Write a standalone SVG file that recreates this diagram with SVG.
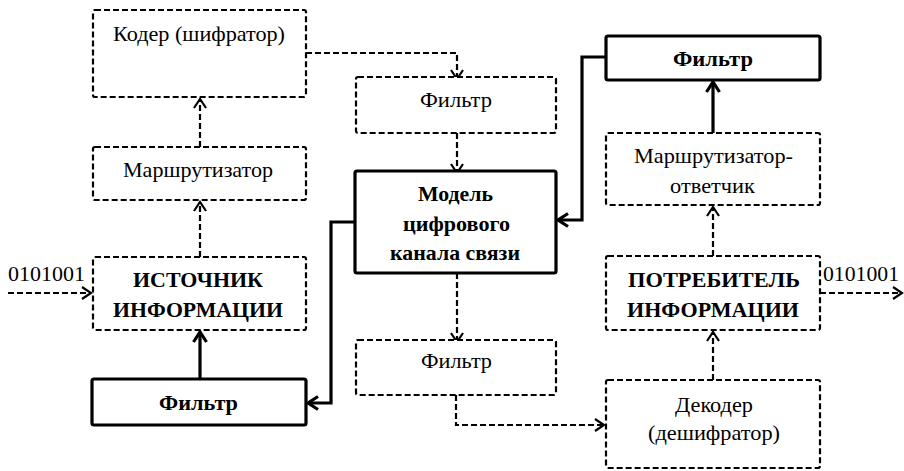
<svg xmlns="http://www.w3.org/2000/svg" width="904" height="471" viewBox="0 0 904 471" font-family="Liberation Serif, Times New Roman, serif">
<defs>
<style>
.box{fill:#fff;stroke:#000;stroke-width:2.2;stroke-dasharray:6,3}
.bbox{fill:#fff;stroke:#000;stroke-width:3.2}
.t{font-family:"Liberation Serif","Times New Roman",serif;font-size:22px;fill:#000;text-anchor:middle}
.b{font-weight:bold;font-size:21.5px}
.dl{fill:none;stroke:#000;stroke-width:2.2;stroke-dasharray:6,3}
.bl{fill:none;stroke:#000;stroke-width:3.2}
</style>
<marker id="ad" markerUnits="userSpaceOnUse" markerWidth="14" markerHeight="14" viewBox="-12 -7 14 14" refX="0" refY="0" orient="auto">
<path d="M-9,-6 L0,0 L-9,6" fill="none" stroke="#000" stroke-width="2.2"/>
</marker>
<marker id="ab" markerUnits="userSpaceOnUse" markerWidth="16" markerHeight="16" viewBox="-13 -8 16 16" refX="0" refY="0" orient="auto">
<path d="M-10,-6.5 L0,0 L-10,6.5" fill="none" stroke="#000" stroke-width="3.2"/>
</marker>
</defs>

<g id="connectors">
<path class="dl" d="M200,147 V99" marker-end="url(#ad)"/>
<path class="dl" d="M306,53 H457 V79" marker-end="url(#ad)"/>
<path class="dl" d="M457,133 V173" marker-end="url(#ad)"/>
<path class="bl" d="M606,57 H582 V220 H558" marker-end="url(#ab)"/>
<path class="bl" d="M713,133 V82" marker-end="url(#ab)"/>
<path class="dl" d="M713,256 V207" marker-end="url(#ad)"/>
<path class="dl" d="M713,380 V332" marker-end="url(#ad)"/>
<path class="dl" d="M820,293 H902" marker-end="url(#ad)"/>
<path class="dl" d="M457,273 V342" marker-end="url(#ad)"/>
<path class="dl" d="M456,395 V425 H604" marker-end="url(#ad)"/>
<path class="dl" d="M8,293 H91" marker-end="url(#ad)"/>
<path class="dl" d="M200,257 V202" marker-end="url(#ad)"/>
<path class="bl" d="M200,379 V332" marker-end="url(#ab)"/>
<path class="bl" d="M355,222 H331 V403 H308" marker-end="url(#ab)"/>
</g>

<g id="coder">
<rect class="box" x="93" y="10" width="213" height="87" rx="2"/>
<text class="t" x="199" y="41" textLength="172" lengthAdjust="spacingAndGlyphs">Кодер (шифратор)</text>
</g>
<g id="router">
<rect class="box" x="93" y="147" width="213" height="53" rx="2"/>
<text class="t" x="198" y="177" textLength="150" lengthAdjust="spacingAndGlyphs">Маршрутизатор</text>
</g>
<g id="source">
<rect class="box" x="93" y="257" width="213" height="73" rx="2"/>
<text class="t b" x="198" y="287" textLength="130" lengthAdjust="spacingAndGlyphs">ИСТОЧНИК</text>
<text class="t b" x="198" y="317" textLength="170" lengthAdjust="spacingAndGlyphs">ИНФОРМАЦИИ</text>
</g>
<g id="input-label">
<text class="t" x="46.5" y="280.5" textLength="77" lengthAdjust="spacingAndGlyphs">0101001</text>
</g>
<g id="filter-bl">
<rect class="bbox" x="92" y="379" width="214" height="46" rx="2"/>
<text class="t b" x="198.5" y="410" textLength="79" lengthAdjust="spacingAndGlyphs">Фильтр</text>
</g>
<g id="filter-top">
<rect class="box" x="356" y="77" width="200" height="56" rx="2"/>
<text class="t" x="456" y="107" textLength="72" lengthAdjust="spacingAndGlyphs">Фильтр</text>
</g>
<g id="channel">
<rect class="bbox" x="355" y="171" width="201" height="102" rx="2"/>
<text class="t b" x="455.5" y="201" textLength="75" lengthAdjust="spacingAndGlyphs">Модель</text>
<text class="t b" x="456.5" y="231" textLength="107" lengthAdjust="spacingAndGlyphs">цифрового</text>
<text class="t b" x="455" y="260" textLength="130" lengthAdjust="spacingAndGlyphs">канала связи</text>
</g>
<g id="filter-bottom">
<rect class="box" x="356" y="340" width="200" height="55" rx="2"/>
<text class="t" x="456.5" y="368" textLength="71" lengthAdjust="spacingAndGlyphs">Фильтр</text>
</g>
<g id="filter-tr">
<rect class="bbox" x="606" y="36" width="214" height="44" rx="2"/>
<text class="t b" x="713" y="66" textLength="80" lengthAdjust="spacingAndGlyphs">Фильтр</text>
</g>
<g id="router-resp">
<rect class="box" x="606" y="133" width="214" height="72" rx="2"/>
<text class="t" x="713.5" y="163" textLength="159" lengthAdjust="spacingAndGlyphs">Маршрутизатор-</text>
<text class="t" x="712.5" y="193" textLength="85" lengthAdjust="spacingAndGlyphs">ответчик</text>
</g>
<g id="consumer">
<rect class="box" x="606" y="256" width="214" height="74" rx="2"/>
<text class="t b" x="714" y="287" textLength="172" lengthAdjust="spacingAndGlyphs">ПОТРЕБИТЕЛЬ</text>
<text class="t b" x="713" y="317" textLength="172" lengthAdjust="spacingAndGlyphs">ИНФОРМАЦИИ</text>
</g>
<g id="output-label">
<text class="t" x="861" y="280.5" textLength="76" lengthAdjust="spacingAndGlyphs">0101001</text>
</g>
<g id="decoder">
<rect class="box" x="606" y="380" width="214" height="88" rx="2"/>
<text class="t" x="714" y="412" textLength="78" lengthAdjust="spacingAndGlyphs">Декодер</text>
<text class="t" x="714" y="440" textLength="132" lengthAdjust="spacingAndGlyphs">(дешифратор)</text>
</g>
</svg>
